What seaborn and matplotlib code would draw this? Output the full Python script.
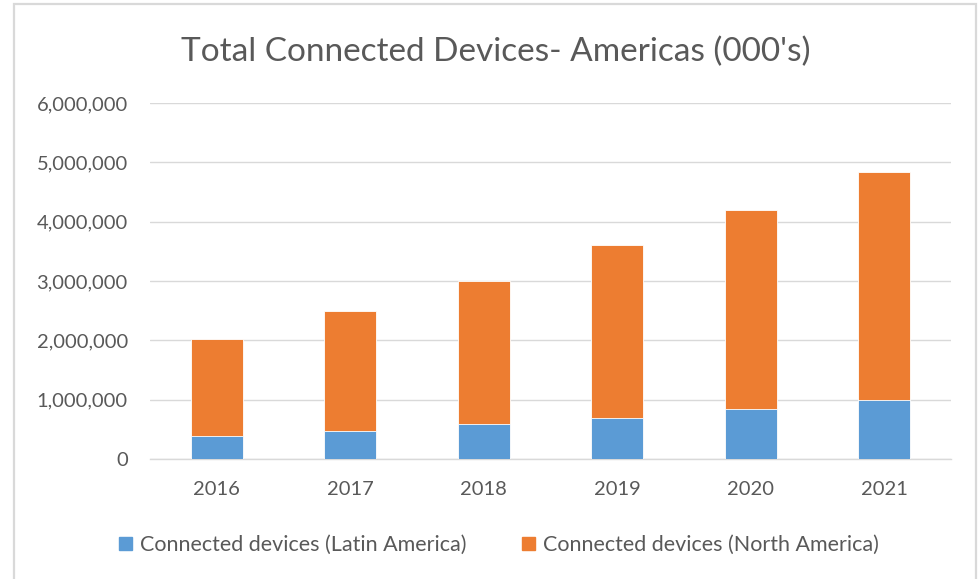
import matplotlib
matplotlib.use("Agg")
import matplotlib.pyplot as plt
import matplotlib.patches as mpatches
from matplotlib.ticker import FuncFormatter
import seaborn as sns
import pandas as pd

years = ["2016", "2017", "2018", "2019", "2020", "2021"]
latin_america = [390000, 480000, 590000, 690000, 840000, 1000000]
north_america = [1630000, 2010000, 2410000, 2910000, 3360000, 3840000]
title = "Total Connected Devices- Americas (000's)"
legend_labels = ["Connected devices (Latin America)", "Connected devices (North America)"]

sns.set_theme(style="white")
plt.rcParams['font.family'] = ['Lato', 'DejaVu Sans']

blue = "#5B9BD5"
orange = "#ED7D31"
grey_text = "#595959"

df = pd.DataFrame({"year": years, "latin": latin_america, "north": north_america})
df["total"] = df["latin"] + df["north"]

fig = plt.figure(figsize=(9.79, 5.79), dpi=100)
ax = fig.add_axes([150/979, 1 - 459/579, 801/979, (459 - 103)/579])

sns.barplot(data=df, x="year", y="total", color=orange, width=0.39,
            edgecolor="white", linewidth=0.6, saturation=1, ax=ax, zorder=3)
sns.barplot(data=df, x="year", y="latin", color=blue, width=0.39,
            edgecolor="white", linewidth=0.6, saturation=1, ax=ax, zorder=4)

ax.set_ylim(0, 6000000)
ax.set_xlim(-0.5, 5.5)
ax.set_yticks(range(0, 6000001, 1000000))
ax.yaxis.set_major_formatter(FuncFormatter(lambda v, p: f"{int(v):,}"))
ax.grid(axis="y", color="#D9D9D9", linewidth=1.0, zorder=0)
ax.set_axisbelow(True)
for s in ["top", "right", "left"]:
    ax.spines[s].set_visible(False)
ax.spines["bottom"].set_color("#D9D9D9")
ax.spines["bottom"].set_linewidth(1.0)
ax.set_xlabel("")
ax.set_ylabel("")
ax.tick_params(axis="both", length=0, labelsize=14.5, labelcolor=grey_text)
ax.tick_params(axis="y", pad=16)
ax.tick_params(axis="x", pad=16)

fig.text(496/979, 1 - 52/579, title, ha="center", va="center",
         fontsize=24, color=grey_text)

handles = [mpatches.Patch(color=blue, label=legend_labels[0]),
           mpatches.Patch(color=orange, label=legend_labels[1])]
fig.legend(handles=handles, loc="center", bbox_to_anchor=(499/979, 1 - 545/579),
           ncol=2, frameon=False, fontsize=15.5, labelcolor=grey_text,
           handlelength=0.6, handleheight=0.6, handletextpad=0.35,
           columnspacing=2.6)

border = mpatches.Rectangle((14/979, -0.05), (976 - 14)/979, 1 - 3.5/579 + 0.05,
                            transform=fig.transFigure, fill=False,
                            edgecolor="#D9D9D9", linewidth=1.6)
fig.add_artist(border)

fig.savefig("out.png", dpi=100, facecolor="white")
